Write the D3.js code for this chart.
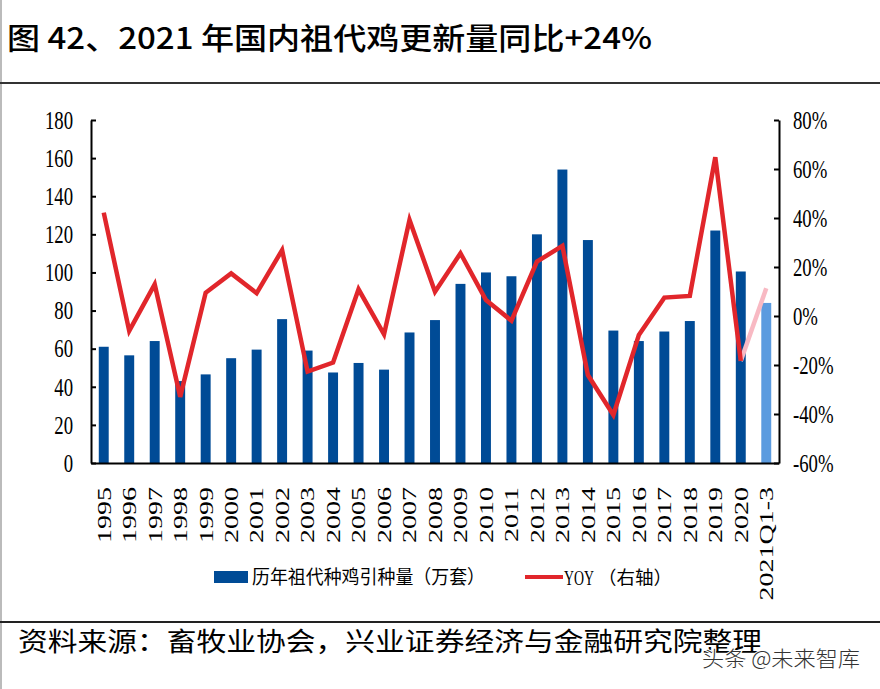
<!DOCTYPE html>
<html>
<head>
<meta charset="utf-8">
<script src="https://cdn.jsdelivr.net/npm/d3@7"></script>
<style>
  html, body { margin: 0; padding: 0; background: #fff; }
  svg { display: block; }
</style>
</head>
<body>
<svg id="chart" width="880" height="689"></svg>
<script>
const categories = ["1995","1996","1997","1998","1999","2000","2001","2002","2003","2004","2005","2006","2007","2008","2009","2010","2011","2012","2013","2014","2015","2016","2017","2018","2019","2020","2021Q1-3"];
const imports = [61,56.5,64,43,46.5,55,59.5,75.5,59,47.5,52.5,49,68.5,75,94,100,98,120,154,117,69.5,64,69,74.5,122,100.5,84];
const yoy = [42.2,-6.1,12.9,-33,9.5,17.4,9.3,26.9,-22.7,-19,10.9,-7.5,39.2,9.9,25.6,6.5,-1.9,22.2,28.6,-24.1,-40.4,-7.8,7.5,8.2,64.8,-18.4,11.3];
const leftTicks = [0,20,40,60,80,100,120,140,160,180];
const rightTicks = [-60,-40,-20,0,20,40,60,80];
const titleText = "图 42、2021 年国内祖代鸡更新量同比+24%";
const legendBar = "历年祖代种鸡引种量（万套）";
const legendLineLatin = "YOY";
const legendLineCjk = "（右轴）";
const sourceText = "资料来源：畜牧业协会，兴业证券经济与金融研究院整理";
const watermark = "头条 @未来智库";

const svg = d3.select("#chart");
const L = 91, R = 779, T = 120, B = 463;
const serif = "'Liberation Serif','Times New Roman',serif";
const cjk = "'Noto Sans CJK SC','Noto Sans',sans-serif";

// frame lines
svg.append("line").attr("x1",1).attr("x2",1).attr("y1",0).attr("y2",689).attr("stroke","#bbb").attr("stroke-width",2);
svg.append("line").attr("x1",0).attr("x2",880).attr("y1",83).attr("y2",83).attr("stroke","#333").attr("stroke-width",2);
svg.append("line").attr("x1",0).attr("x2",880).attr("y1",622).attr("y2",622).attr("stroke","#222").attr("stroke-width",2);

// title
svg.append("text").attr("x",7).attr("y",49)
  .attr("font-family",cjk).attr("font-size",30).attr("font-weight",500)
  .attr("textLength",645).attr("lengthAdjust","spacingAndGlyphs")
  .attr("fill","#000").text(titleText);

const x = d3.scaleBand().domain(categories).range([L,R]).paddingInner(0.61).paddingOuter(0.305);
const yL = d3.scaleLinear().domain([0,180]).range([B,T]);
const yR = d3.scaleLinear().domain([-60,80]).range([B,T]);

// bars
svg.append("g").selectAll("rect").data(imports).join("rect")
  .attr("x",(d,i)=>x(categories[i]))
  .attr("width",x.bandwidth())
  .attr("y",d=>yL(d))
  .attr("height",d=>yL(0)-yL(d))
  .attr("fill",(d,i)=> i===categories.length-1 ? "#5B9BDF" : "#004B96");

// line
const cx = i => x(categories[i]) + x.bandwidth()/2;
const line = d3.line().x(d=>cx(d.i)).y(d=>yR(d.v));
const pts = yoy.map((v,i)=>({i,v}));
const n = pts.length;
svg.append("path").datum(pts.slice(n-2))
  .attr("d",line).attr("fill","none").attr("stroke","#F8B9C3").attr("stroke-width",4.5);
svg.append("path").datum(pts.slice(0,n-1))
  .attr("d",line).attr("fill","none").attr("stroke","#E1262B").attr("stroke-width",4.5)
  .attr("stroke-linejoin","miter");

// left axis
const gL = svg.append("g").attr("transform",`translate(${L},0)`)
  .call(d3.axisRight(yL).tickValues(leftTicks).tickSize(5).tickSizeOuter(0).tickFormat(d3.format("d")));
gL.selectAll("text").attr("x",0).attr("dy","0.33em").attr("text-anchor","end")
  .attr("transform","translate(-18,0) scale(0.75,1)")
  .attr("font-family",serif).attr("font-size",25).attr("fill","#000");

// right axis
const gR = svg.append("g").attr("transform",`translate(${R},0)`)
  .call(d3.axisLeft(yR).tickValues(rightTicks).tickSize(5).tickSizeOuter(0).tickFormat(d=>d+"%"));
gR.selectAll("text").attr("x",0).attr("dy","0.33em").attr("text-anchor","start")
  .attr("transform","translate(14,0) scale(0.75,1)")
  .attr("font-family",serif).attr("font-size",25).attr("fill","#000");

// bottom axis
const gB = svg.append("g").attr("transform",`translate(0,${B})`)
  .call(d3.axisBottom(x).tickSize(0).tickSizeOuter(0));
gB.selectAll("text").attr("x",-24).attr("y",0).attr("dy","0.35em").attr("text-anchor","end")
  .attr("transform","rotate(-90) scale(1,0.7)")
  .attr("font-family",serif).attr("font-size",28).attr("fill","#000");

[gL,gR,gB].forEach(g=>{
  g.select(".domain").attr("stroke","#000").attr("stroke-width",2);
  g.selectAll(".tick line").attr("stroke","#000").attr("stroke-width",2);
});

// legend
svg.append("rect").attr("x",214).attr("y",571).attr("width",34).attr("height",12).attr("fill","#004B96");
svg.append("text").attr("x",252).attr("y",584)
  .attr("font-family",cjk).attr("font-size",19).attr("fill","#000")
  .attr("textLength",233).attr("lengthAdjust","spacingAndGlyphs").text(legendBar);
svg.append("line").attr("x1",525).attr("x2",563).attr("y1",577).attr("y2",577).attr("stroke","#E1262B").attr("stroke-width",4);
svg.append("text").attr("x",0).attr("y",0)
  .attr("transform","translate(564,585) scale(0.66,1)")
  .attr("font-family",serif).attr("font-size",21).attr("fill","#000")
  .text(legendLineLatin);
svg.append("text").attr("x",598).attr("y",584)
  .attr("font-family",cjk).attr("font-size",18.5).attr("fill","#000")
  .attr("textLength",74).attr("lengthAdjust","spacingAndGlyphs").text(legendLineCjk);

// source
svg.append("text").attr("x",18).attr("y",651)
  .attr("font-family",cjk).attr("font-size",26).attr("fill","#000")
  .attr("textLength",744).attr("lengthAdjust","spacingAndGlyphs").text(sourceText);

// watermark
svg.append("text").attr("x",702).attr("y",666)
  .attr("font-family",cjk).attr("font-size",21).attr("font-weight",300)
  .attr("fill","#333").attr("stroke","#fff").attr("stroke-width",2).attr("paint-order","stroke")
  .attr("textLength",158).attr("lengthAdjust","spacingAndGlyphs").text(watermark);
</script>
</body>
</html>
